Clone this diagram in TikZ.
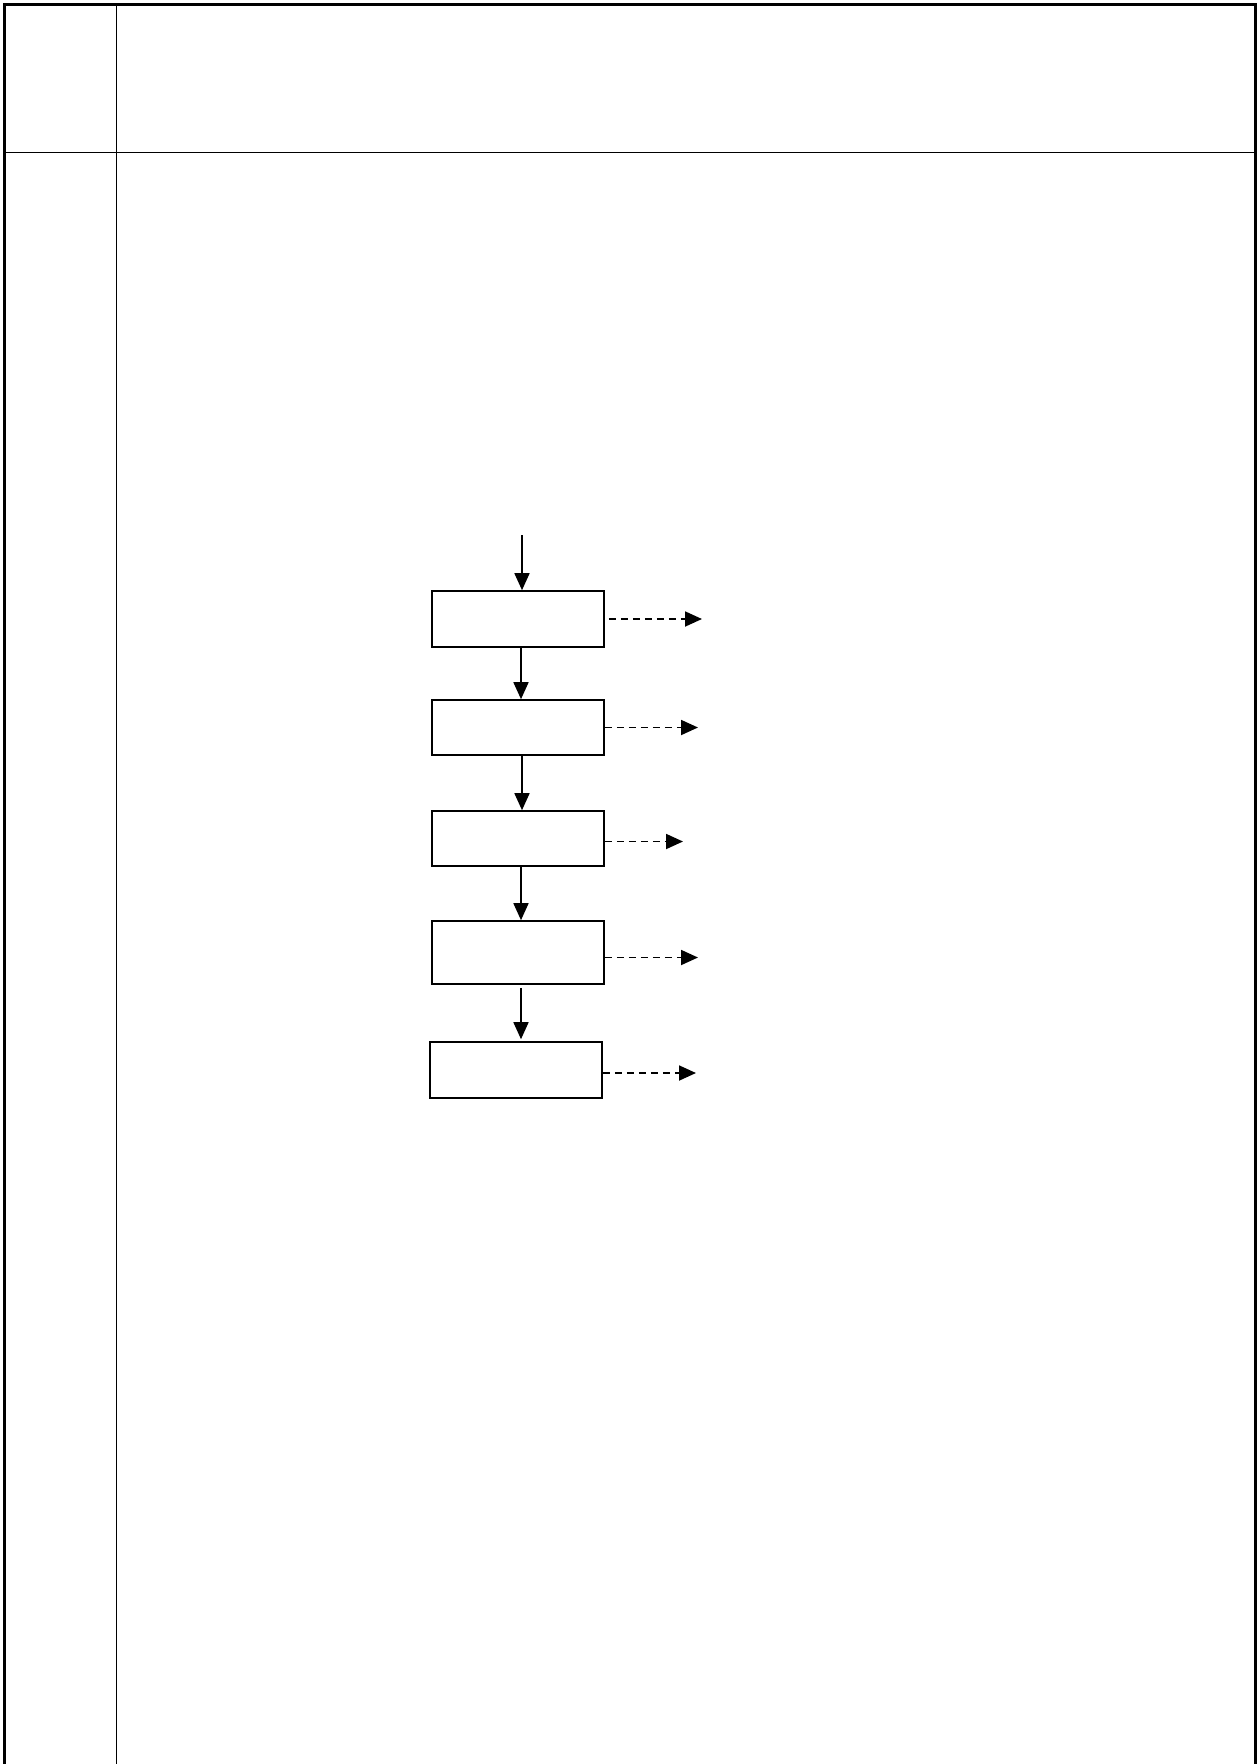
\documentclass[tikz,border=0pt]{standalone}
\usepackage{tikz}
\usetikzlibrary{arrows.meta,positioning}

\begin{document}
\begin{tikzpicture}[x=1pt,y=-1pt,
    stage/.style={draw,line width=1.6pt,minimum width=172pt,inner sep=0pt},
    flow/.style={-{Triangle[length=17pt,width=15pt]},line width=1.6pt},
    side/.style={-{Triangle[length=17pt,width=15pt]},line width=1.8pt,dash pattern=on 7pt off 5pt}]
      \useasboundingbox (0,0) rectangle (1259,1764);
      % frame of the sheet
      \draw[line width=2.4pt] (4.5,1764) -- (4.5,4.5) -- (1255.5,4.5) -- (1255.5,1764);
      \draw[line width=0.9pt] (116,4.5) -- (116,1764);
      \draw[line width=0.9pt] (4.5,152) -- (1255.5,152);
      % stages
      \foreach \n/\x/\y/\h in {b1/518/619/56,b2/518/727.5/55,b3/518/838.5/55,b4/518/952.5/63,b5/516/1070/56}
        \node[stage,minimum height=\h pt] (\n) at (\x,\y) {};
      \coordinate (in) at (522,535);
      \foreach \n/\e/\d in {b1/702/0,b2/698/0,b3/683/3,b4/698/5,b5/696/3}
        \coordinate (\n out) at ([yshift=-\d pt]\e,0 |- \n.east);
      % connectors
      \draw[flow] (in) -- (in |- b1.north);
      \draw[flow] ([xshift=3pt]b1.south) -- ([xshift=3pt]b2.north);
      \draw[flow] ([xshift=4pt]b2.south) -- ([xshift=4pt]b3.north);
      \draw[flow] ([xshift=3pt]b3.south) -- ([xshift=3pt]b4.north);
      \draw[flow,shorten <=3pt,shorten >=2pt] ([xshift=3pt]b4.south) -- ([xshift=5pt]b5.north);
      \draw[side] ([xshift=4pt]b1.east) -- (b1out);
      \foreach \n in {b2,b3,b4,b5}
        \draw[side] (\n.east |- \n out) -- (\n out);
    \end{tikzpicture}
\end{document}
